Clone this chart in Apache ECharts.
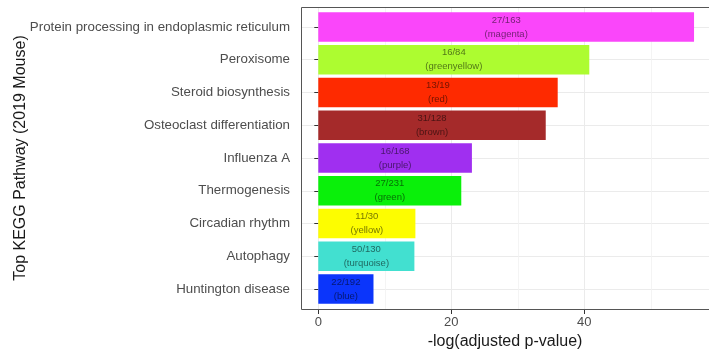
<!DOCTYPE html>
<html><head><meta charset="utf-8">
<script src="https://cdn.jsdelivr.net/npm/echarts@6/dist/echarts.min.js"></script>
<style>html,body{margin:0;padding:0;background:#fff}#c{width:709px;height:351px}</style>
</head><body><div id="c"></div>
<script>
const categories = [
  'Protein processing in endoplasmic reticulum',
  'Peroxisome',
  'Steroid biosynthesis',
  'Osteoclast differentiation',
  'Influenza A',
  'Thermogenesis',
  'Circadian rhythm',
  'Autophagy',
  'Huntington disease'
];
const values = [56.5, 40.75, 36.0, 34.2, 23.1, 21.5, 14.6, 14.45, 8.3];
const geneRatios = ['27/163', '16/84', '13/19', '31/128', '16/168', '27/231', '11/30', '50/130', '22/192'];
const moduleNames = ['magenta', 'greenyellow', 'red', 'brown', 'purple', 'green', 'yellow', 'turquoise', 'blue'];
const xTickStep = 20;

const palette = ['#fa46fa', '#adfc30', '#fe2a00', '#a52a2a', '#a02ff0', '#0af00a', '#fdfd00', '#42e0d0', '#0b35fb'];
const FONT = '"Liberation Sans", Arial, Helvetica, sans-serif';

const chart = echarts.init(document.getElementById('c'), null, {renderer: 'canvas'});
const option = {
  animation: false,
  textStyle: {fontFamily: FONT},
  grid: [
    {left: 318.3, right: 0, top: 7, bottom: 41, containLabel: false, outerBoundsMode: 'none'},
    {left: 301, right: 0, top: 10.6, bottom: 45.6, containLabel: false, outerBoundsMode: 'none'}
  ],
  xAxis: [
    {
      gridIndex: 0, type: 'value', min: 0, max: 58.75, interval: xTickStep,
      axisLine: {show: false},
      axisTick: {show: true, length: 4, lineStyle: {color: '#333', width: 1}},
      axisLabel: {show: true, margin: 6, fontSize: 13, color: '#4d4d4d', fontFamily: FONT, showMaxLabel: false},
      splitLine: {show: true, lineStyle: {color: '#ebebeb', width: 1}},
      minorTick: {show: false, splitNumber: 2},
      minorSplitLine: {show: true, lineStyle: {color: '#f1f1f1', width: 0.8}}
    },
    {
      gridIndex: 1, type: 'value', min: -2.6, max: 58.75,
      axisLine: {show: false}, axisTick: {show: false}, axisLabel: {show: false}, splitLine: {show: false},
      name: '-log(adjusted p-value)', nameLocation: 'middle', nameGap: 28, nameMoveOverlap: false,
      nameTextStyle: {fontSize: 16, color: '#1a1a1a', fontFamily: FONT}
    }
  ],
  yAxis: [
    {gridIndex: 0, type: 'value', show: false},
    {
      gridIndex: 1, type: 'category', inverse: true, data: categories,
      axisLine: {show: false},
      axisTick: {show: true, alignWithLabel: true, length: 4, interval: 0, lineStyle: {color: '#333', width: 1}},
      axisLabel: {show: true, interval: 0, margin: 11, fontSize: 13.3, color: '#4d4d4d', fontFamily: FONT},
      splitLine: {show: true, alignWithLabel: true, interval: 0, lineStyle: {color: '#ebebeb', width: 1}},
      name: 'Top KEGG Pathway (2019 Mouse)', nameLocation: 'middle', nameRotate: 90, nameGap: 272,
      nameMoveOverlap: false,
      nameTextStyle: {fontSize: 16, color: '#1a1a1a', fontFamily: FONT}
    }
  ],
  series: [{
    type: 'bar', xAxisIndex: 1, yAxisIndex: 1,
    barCategoryGap: '10%',
    data: values.map((v, i) => ({value: v, itemStyle: {color: palette[i]}})),
    label: {
      show: true, position: 'inside',
      formatter: p => geneRatios[p.dataIndex] + '\n(' + moduleNames[p.dataIndex] + ')',
      fontSize: 9.5, lineHeight: 14, color: 'rgba(0,0,0,0.55)', fontFamily: FONT
    }
  }],
  graphic: [{
    type: 'rect', silent: true, z: 10,
    shape: {x: 301.5, y: 7.5, width: 412, height: 302},
    style: {fill: 'none', stroke: '#555', lineWidth: 1}
  }]
};
chart.setOption(option);
</script>
</body></html>
